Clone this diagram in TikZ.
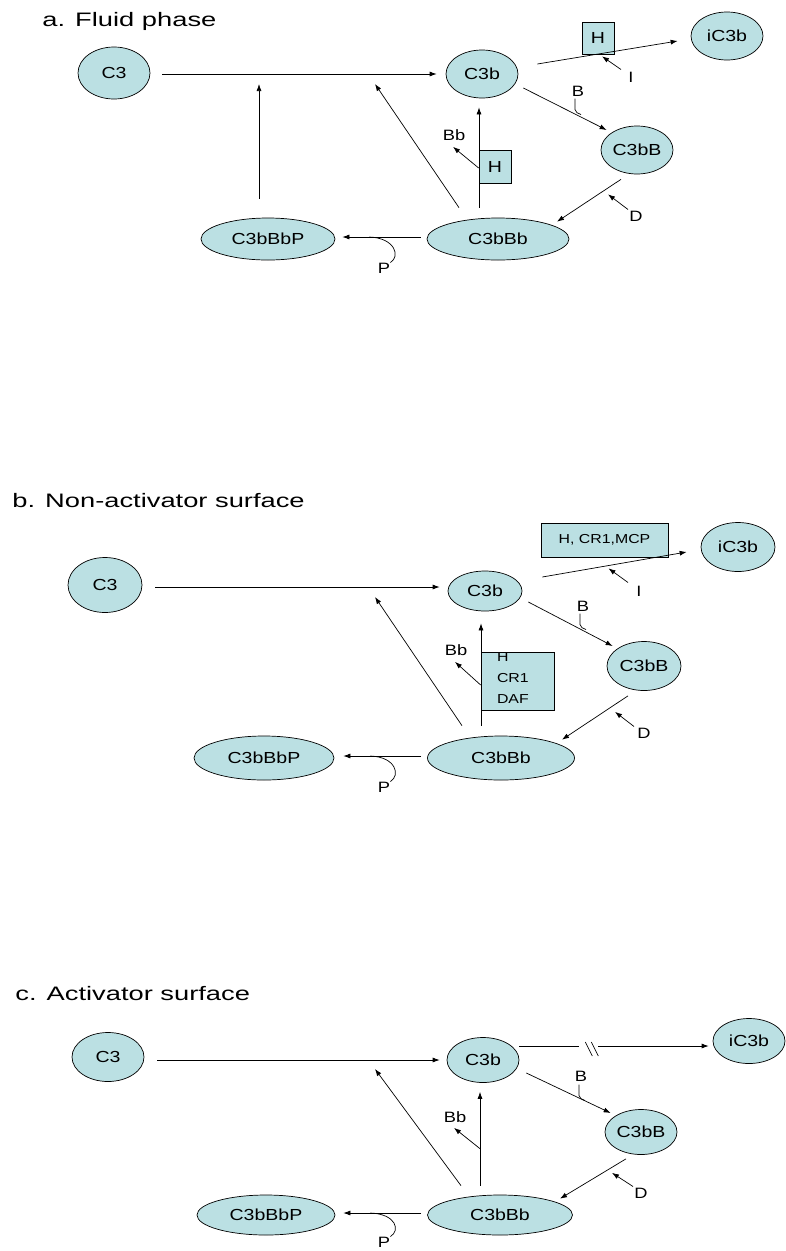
\documentclass[tikz,border=0pt]{standalone}
\usepackage{fontspec}
\setmainfont[FakeStretch=1.22]{Liberation Sans}
\newfontfamily\titlefont[FakeStretch=1.4]{Liberation Sans}
\usepackage{tikz}
\usetikzlibrary{shapes,arrows.meta,positioning,calc}
\usepackage{xcolor}
\definecolor{cellfill}{RGB}{187,224,227}

\newcommand{\molfont}{\fontsize{16}{19}\selectfont}
\newcommand{\tagfont}{\fontsize{15}{18}\selectfont}
\newcommand{\boxfont}{\fontsize{13}{21}\selectfont}
\newcommand{\headfont}{\titlefont\fontsize{19.5}{23}\selectfont}

\begin{document}
\begin{tikzpicture}[x=1pt, y=-1pt, line width=0.7pt,
    mol/.style={ellipse, draw, fill=cellfill, inner sep=0pt, font=\molfont},
    regbox/.style={rectangle, draw, fill=cellfill, inner sep=0pt},
    tag/.style={inner sep=0pt, font=\tagfont},
    react/.style={-{Latex[length=7pt,width=5pt]}}]
                    \useasboundingbox (0,0) rectangle (785,1251);

                    % ---------- a. Fluid phase ----------
                    \node[anchor=base west, inner sep=0pt, font=\headfont] (headA) at (42,26) {a. Fluid phase};
                    \node[mol, minimum width=72pt, minimum height=52pt] (c3A) at (114,73) {C3};
                    \node[mol, minimum width=72pt, minimum height=48pt] (c3bA) at (482,74) {C3b};
                    \node[mol, minimum width=72pt, minimum height=48pt] (ic3bA) at (727,36) {iC3b};
                    \node[mol, minimum width=72pt, minimum height=48pt] (c3bfbA) at (637,150) {C3bB};
                    \node[mol, minimum width=142pt, minimum height=42pt] (convA) at (498,239) {C3bBb};
                    \node[mol, minimum width=134pt, minimum height=42pt] (propA) at (268,239) {C3bBbP};

                    % factor H boxes
                    \node[regbox, minimum width=32pt, minimum height=32pt, font=\molfont] (fhA) at (598,38) {H};
                    \node[regbox, minimum width=32pt, minimum height=33pt, font=\molfont] (fhvA) at (495,167) {H};

                    % small labels
                    \node[tag] (iA) at (631,77) {I};
                    \node[tag] (bA) at (578,91) {B};
                    \node[tag] (dA) at (636,216) {D};
                    \node[tag] (bbA) at (454,135) {Bb};
                    \node[tag] (pA) at (384,268) {P};

                    % points on the C3 line
                    \coordinate (hitA1) at (259,84);
                    \coordinate (hitA2) at (375,84);

                    % connectors
                    \draw[react] ($(c3A.east)+(12,1)$) -- ($(c3bA.west)+(-9,0)$);
                    \draw[react] ($(propA.north)+(-9,-19)$) -- (hitA1);
                    \draw[react] ($(convA.north)+(-39,-10)$) -- (hitA2);
                    \draw[react] ($(convA.west)+(-6,-2)$) -- ($(propA.east)+(7,-2)$);
                    \draw ($(propA.east)+(34,-2)$) .. controls +(26,1) and +(10,-6) .. (pA.north east);
                    \draw[react] ($(c3bA.east)+(19,-10)$) -- ($(ic3bA.west)+(-13,5)$);
                    \draw[react] ($(iA.north)+(-10,-2)$) -- ($(fhA.south)+(4,2)$);
                    \draw[react] ($(c3bA.east)+(5,14)$) -- ($(c3bfbA.west)+(6,-20)$);
                    \draw ($(bA.south)+(-3,2)$) -- ++(0,11) to[out=-90,in=155] ++(6,5);
                    \draw[react] ($(c3bfbA.south)+(-16,5)$) -- ($(convA.north)+(59,4)$);
                    \draw[react] ($(dA.north)+(-8,-1)$) -- ($(c3bfbA.south)+(-29,20)$);
                    \draw[react] ($(convA.north)+(-19,-10)$) -- ($(c3bA.south)+(-3,9)$);
                    \draw[react] ($(fhvA.west)+(0,1)$) -- ($(bbA.south)+(-1,6)$);

                    % ---------- b. Non-activator surface ----------
                    \node[anchor=base west, inner sep=0pt, font=\headfont] (headB) at (12,507) {b. Non-activator surface};
                    \node[mol, minimum width=74pt, minimum height=55pt] (c3B) at (105,585) {C3};
                    \node[mol, minimum width=74pt, minimum height=40pt] (c3bB) at (485,591) {C3b};
                    \node[mol, minimum width=74pt, minimum height=49pt] (ic3bB) at (738,547) {iC3b};
                    \node[mol, minimum width=74pt, minimum height=49pt] (c3bfbB) at (644,666) {C3bB};
                    \node[mol, minimum width=147pt, minimum height=44pt] (convB) at (501,758) {C3bBb};
                    \node[mol, minimum width=140pt, minimum height=44pt] (propB) at (264,758) {C3bBbP};

                    % regulator boxes
                    \node[regbox, minimum width=127pt, minimum height=34pt, font=\boxfont] (fhB) at (604.5,540) {H, CR1,MCP};
                    \node[regbox, minimum width=73pt, minimum height=58pt] (regB) at (517.5,681) {};
                    \node[anchor=north west, inner sep=0pt, align=left, font=\boxfont] (regtxtB) at ($(regB.north west)+(16,1)$) {H\\CR1\\DAF};

                    % small labels
                    \node[tag] (iB) at (639,591) {I};
                    \node[tag] (bB) at (583,606) {B};
                    \node[tag] (dB) at (644,733) {D};
                    \node[tag] (bbB) at (456,650) {Bb};
                    \node[tag] (pB) at (384,787) {P};

                    \coordinate (hitB2) at (375,597);

                    % connectors
                    \draw[react] ($(c3B.east)+(13,2)$) -- ($(c3bB.west)+(-8,-4)$);
                    \draw[react] ($(convB.north)+(-39,-10)$) -- (hitB2);
                    \draw[react] ($(convB.west)+(-6,-2)$) -- ($(propB.east)+(9,-2)$);
                    \draw ($(propB.east)+(36,-2)$) .. controls +(26,1) and +(10,-6) .. (pB.north east);
                    \draw[react] ($(c3bB.east)+(20,-14)$) -- ($(ic3bB.west)+(-14,5)$);
                    \draw[react] ($(iB.north)+(-11,-3)$) -- ($(fhB.south)+(4,11)$);
                    \draw[react] ($(c3bB.east)+(6,11)$) -- ($(c3bfbB.west)+(6,-20)$);
                    \draw ($(bB.south)+(-3,2)$) -- ++(0,11) to[out=-90,in=155] ++(6,5);
                    \draw[react] ($(c3bfbB.south)+(-16,5)$) -- ($(convB.north)+(61,4)$);
                    \draw[react] ($(dB.north)+(-10,-1)$) -- ($(c3bfbB.south)+(-29,21)$);
                    \draw[react] ($(convB.north)+(-20,-10)$) -- ($(c3bB.south)+(-4,12)$);
                    \draw[react] ($(regB.west)+(0,4)$) -- ($(bbB.south)+(-1,6)$);

                    % ---------- c. Activator surface ----------
                    \node[anchor=base west, inner sep=0pt, font=\headfont] (headC) at (15,1000) {c. Activator surface};
                    \node[mol, minimum width=72pt, minimum height=49pt] (c3C) at (108,1057) {C3};
                    \node[mol, minimum width=72pt, minimum height=45pt] (c3bC) at (483,1060) {C3b};
                    \node[mol, minimum width=72pt, minimum height=45pt] (ic3bC) at (749,1041) {iC3b};
                    \node[mol, minimum width=72pt, minimum height=45pt] (c3bfbC) at (641,1132) {C3bB};
                    \node[mol, minimum width=145pt, minimum height=40pt] (convC) at (500,1215) {C3bBb};
                    \node[mol, minimum width=138pt, minimum height=40pt] (propC) at (266,1215) {C3bBbP};

                    % small labels
                    \node[tag] (bC) at (581,1076) {B};
                    \node[tag] (dC) at (641,1193) {D};
                    \node[tag] (bbC) at (455,1117) {Bb};
                    \node[tag] (pC) at (384,1242) {P};

                    \coordinate (hitC2) at (375,1069);

                    % connectors
                    \draw[react] ($(c3C.east)+(13,3)$) -- ($(c3bC.west)+(-7,0)$);
                    \draw[react] ($(convC.north)+(-39,-9)$) -- (hitC2);
                    \draw[react] ($(convC.west)+(-6,-2)$) -- ($(propC.east)+(8,-2)$);
                    \draw ($(propC.east)+(35,-2)$) .. controls +(26,1) and +(10,-6) .. (pC.north east);
                    % blocked C3b -> iC3b
                    \draw ($(c3bC.east)+(0,-14)$) -- ++(60,0);
                    \draw[react] ($(c3bC.east)+(79,-14)$) -- ($(ic3bC.west)+(-4,5)$);
                    \draw ($(c3bC.east)+(66,-18)$) -- ++(7,14) ($(c3bC.east)+(72,-18)$) -- ++(7,14);
                    \draw[react] ($(c3bC.east)+(7,13)$) -- ($(c3bfbC.west)+(6,-19)$);
                    \draw ($(bC.south)+(-2,3)$) -- ++(0,11) to[out=-90,in=155] ++(6,5);
                    \draw[react] ($(c3bfbC.south)+(-15,4)$) -- ($(convC.north)+(60,4)$);
                    \draw[react] ($(dC.north)+(-8,-1)$) -- ($(c3bfbC.south)+(-29,18)$);
                    \draw[react] ($(convC.north)+(-20,-9)$) -- ($(c3bC.south)+(-3,9)$);
                    \draw[react] ($(convC.north)+(-20,-46)$) -- ($(bbC.south)+(-1,5)$);
                \end{tikzpicture}
\end{document}
